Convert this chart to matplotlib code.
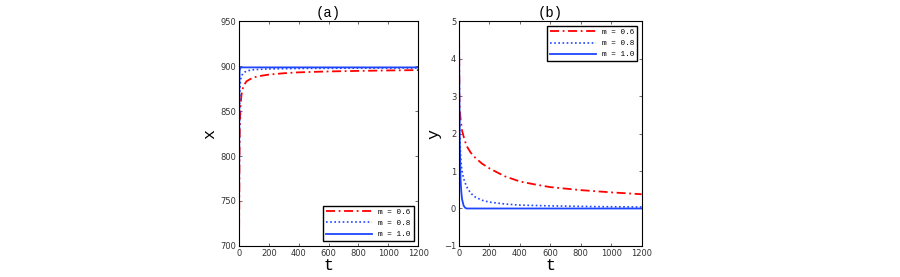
import matplotlib
matplotlib.use('Agg')
import matplotlib.pyplot as plt

# panel (a): x(t)
t_a_06 = [0, 3, 5, 10, 15, 20, 30, 50, 75, 100, 150, 200, 300, 400, 600, 800, 1000, 1200]
x_a_06 = [700, 800, 830, 855, 866, 872, 878, 883, 885.5, 887.5, 889.2, 890.5, 892, 893, 894, 894.6, 895.1, 895.5]
t_a_08 = [0, 2, 4, 6, 10, 20, 40, 70, 100, 200, 400, 700, 1200]
x_a_08 = [700, 820, 860, 875, 885, 890, 893.5, 895.2, 896, 896.8, 897.3, 897.6, 897.8]
t_a_10 = [0, 1, 2, 4, 8, 15, 1200]
x_a_10 = [700, 820, 880, 895, 898, 898.5, 898.5]

# panel (b): y(t)
t_b_06 = [0, 3, 5, 10, 20, 35, 50, 75, 100, 150, 200, 300, 400, 500, 600, 800, 1000, 1200]
y_b_06 = [5, 2.8, 2.63, 2.4, 2.08, 1.85, 1.67, 1.5, 1.38, 1.2, 1.07, 0.86, 0.72, 0.64, 0.57, 0.49, 0.43, 0.38]
t_b_08 = [0, 2, 5, 10, 15, 22, 30, 50, 75, 100, 150, 200, 300, 400, 600, 900, 1200]
y_b_08 = [5, 2.6, 2.0, 1.45, 1.15, 0.95, 0.8, 0.58, 0.42, 0.32, 0.22, 0.17, 0.12, 0.09, 0.07, 0.05, 0.04]
t_b_10 = [0, 2, 5, 10, 15, 20, 30, 40, 50, 1200]
y_b_10 = [5, 3.2, 1.8, 0.8, 0.45, 0.25, 0.08, 0.02, 0, 0]

labels = ['m = 0.6', 'm = 0.8', 'm = 1.0']
red = '#ff0000'
blue = '#1e46ff'
mono = 'Liberation Mono'
dashdot = (5, 2, 1, 2)
dotted = (1, 1.5)


def draw(ax, t6, v6, t8, v8, t10, v10):
    ax.plot(t6, v6, color=red, lw=1.3, dashes=dashdot, label=labels[0])
    ax.plot(t8, v8, color=blue, lw=1.2, dashes=dotted, label=labels[1])
    ax.plot(t10, v10, color=blue, ls='-', lw=1.3, label=labels[2])


fig = plt.figure(figsize=(9, 2.77), dpi=100)
ax1 = fig.add_axes([0.2656, 0.112, 0.199, 0.812])
ax2 = fig.add_axes([0.51, 0.112, 0.203, 0.812])

draw(ax1, t_a_06, x_a_06, t_a_08, x_a_08, t_a_10, x_a_10)
ax1.set_ylim(700, 950)
ax1.set_yticks(range(700, 951, 50))
ax1.set_ylabel('x', fontsize=12, family=mono, labelpad=2)
ax1.set_title('(a)', fontsize=10, family=mono, pad=3)
ax1.legend(loc='lower right', prop={'family': mono, 'size': 5.5}, fancybox=False,
           edgecolor='black', framealpha=1, handlelength=6, borderaxespad=0.6)

draw(ax2, t_b_06, y_b_06, t_b_08, y_b_08, t_b_10, y_b_10)
ax2.set_ylim(-1, 5)
ax2.set_yticks(range(-1, 6))
ax2.set_ylabel('y', fontsize=12, family=mono, labelpad=2)
ax2.set_title('(b)', fontsize=10, family=mono, pad=3)
ax2.legend(loc='upper right', prop={'family': mono, 'size': 5.5}, fancybox=False,
           edgecolor='black', framealpha=1, handlelength=6, borderaxespad=0.6)

for ax in (ax1, ax2):
    ax.set_xlim(0, 1200)
    ax.set_xticks(range(0, 1201, 200))
    ax.set_xlabel('t', fontsize=12, family=mono, labelpad=0)
    ax.tick_params(direction='in', top=True, right=True, labelsize=6, length=2.5,
                   width=0.5, pad=2, colors='#333333')
    for s in ax.spines.values():
        s.set_linewidth(0.8)

fig.savefig('out.png', dpi=100)
